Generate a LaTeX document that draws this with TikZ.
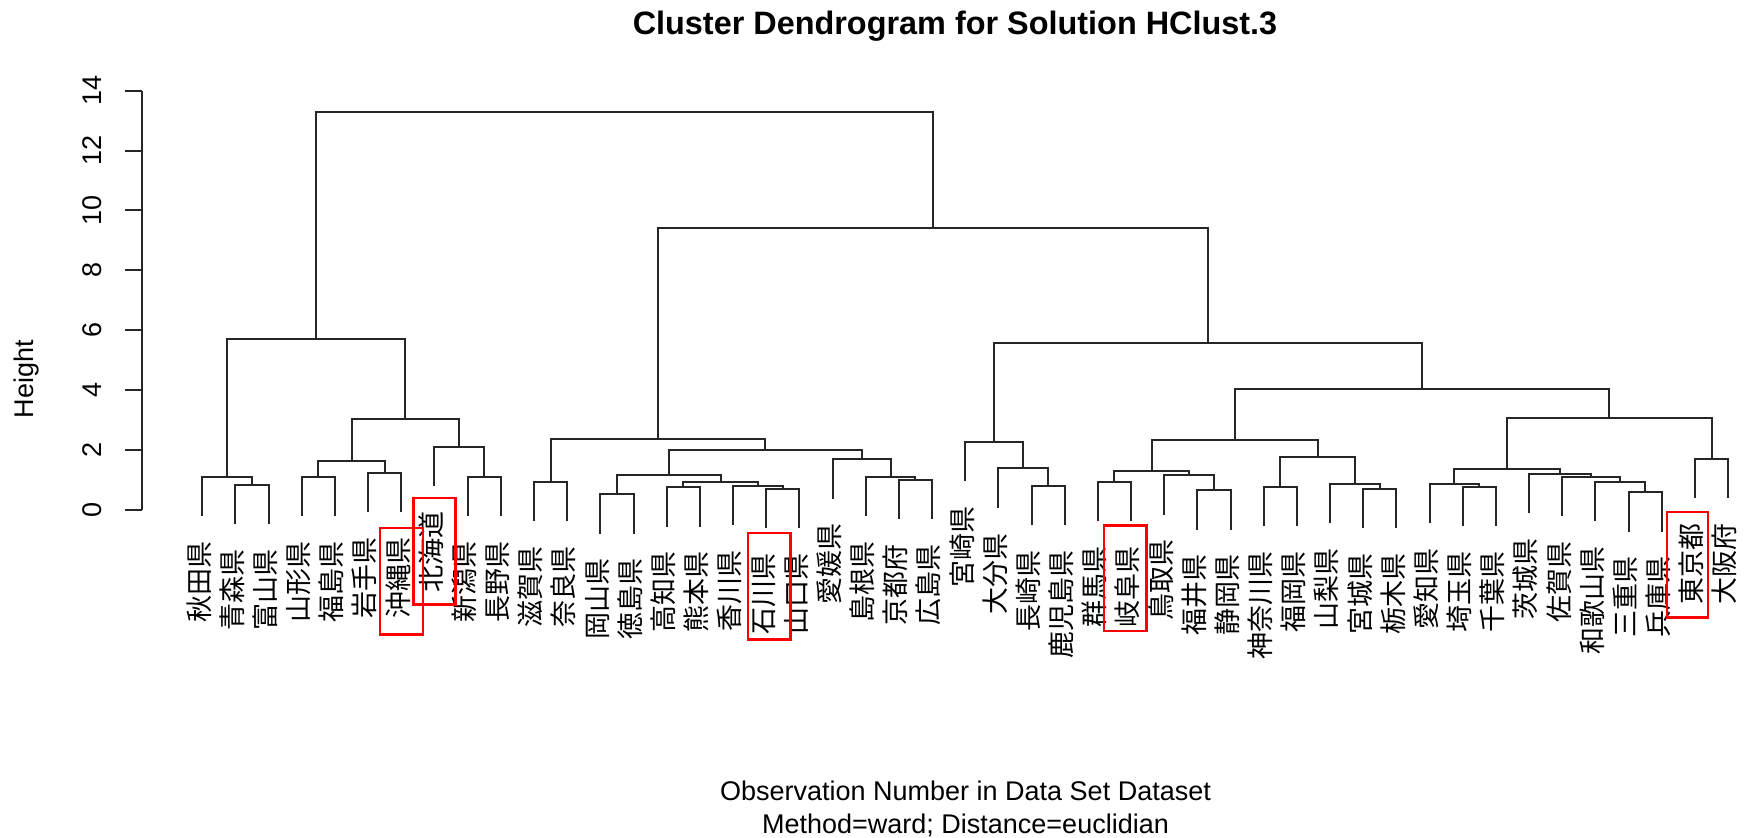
\documentclass[tikz,border=0pt]{standalone}
\usepackage{fontspec}
\setmainfont{Liberation Sans}
\newfontfamily\jpfont{Noto Sans CJK JP}
\usetikzlibrary{calc}

\newcommand\hang{1.312}
% join two clusters: name, left, right, height
\newcommand\merge[4]{%
  \coordinate (#1x) at ($(#2)!0.5!(#3)$);
  \coordinate (#1) at (#1x |- 0,#4);
  \draw[tree] (#2) |- (#1) -| (#3);
}

\begin{document}
\begin{tikzpicture}[
  x=0.5pt, y=-0.5pt,
  tree/.style={line width=1pt, black!85},
  leaflab/.style={font=\jpfont\fontsize{13.5}{13.5}\selectfont, rotate=90, anchor=east,
    inner sep=0pt, text height=11.9pt, text depth=1.6pt},
  ticklab/.style={font=\fontsize{13.5}{16}\selectfont, rotate=90, anchor=base, inner sep=0pt},
  axlab/.style={font=\fontsize{13.5}{16}\selectfont, anchor=base, inner sep=0pt},
  hl/.style={draw=red, line width=1.3pt},
]
  \useasboundingbox (0,0) rectangle (1745,838);

  \node[axlab, font=\bfseries\fontsize{16.2}{18}\selectfont] (title) at (955,34.5) {Cluster Dendrogram for Solution HClust.3};
  \node[axlab] (xlab1) at (965.5,800) {Observation Number in Data Set Dataset};
  \node[axlab] (xlab2) at (965.5,833) {Method=ward; Distance=euclidian};
  \node[axlab, rotate=90] (ylab) at (33,379) {Height};

  \begin{scope}[shift={(202.3,510)}, x=16.585pt, y=14.975pt]
    % height axis
    \draw[tree] (-1.827,0) coordinate (ax0) -- (-1.827,14) coordinate (ax1);
    \foreach \t in {0,2,...,14} {
      \coordinate (k\t) at (-1.827,\t);
      \draw[tree] (k\t) -- ++(-8.3pt,0);
      \node[ticklab] (y\t) at ($(k\t)+(-20pt,0)$) {\t};
    }

    % leaves: number / prefecture / height of parent
    \foreach \i/\pref/\ph in {
      1/秋田県/1.11, 2/青森県/0.835, 3/富山県/0.835, 4/山形県/1.11, 5/福島県/1.11,
      6/岩手県/1.245, 7/沖縄県/1.245, 8/北海道/2.113, 9/新潟県/1.11, 10/長野県/1.11,
      11/滋賀県/0.945, 12/奈良県/0.945, 13/岡山県/0.524, 14/徳島県/0.524, 15/高知県/0.758,
      16/熊本県/0.758, 17/香川県/0.811, 18/石川県/0.711, 19/山口県/0.711, 20/愛媛県/1.693,
      21/島根県/1.102, 22/京都府/1.002, 23/広島県/1.002, 24/宮崎県/2.270, 25/大分県/1.392,
      26/長崎県/0.811, 27/鹿児島県/0.811, 28/群馬県/0.935, 29/岐阜県/0.935, 30/鳥取県/1.159,
      31/福井県/0.658, 32/静岡県/0.658, 33/神奈川県/0.768, 34/福岡県/0.768, 35/山梨県/0.868,
      36/宮城県/0.711, 37/栃木県/0.711, 38/愛知県/0.878, 39/埼玉県/0.768, 40/千葉県/0.768,
      41/茨城県/1.212, 42/佐賀県/1.112, 43/和歌山県/0.935, 44/三重県/0.591, 45/兵庫県/0.591,
      46/東京都/1.703, 47/大阪府/1.703} {
      \coordinate (l\i) at (\i-1, \ph-\hang);
      \node[leaflab] (t\i) at ($(l\i)+(-1.75pt,-12.5pt)$) {\pref};
    }

    % north-east group
    \merge{a1}{l2}{l3}{0.835}
    \merge{a2}{l1}{a1}{1.11}
    \merge{a3}{l4}{l5}{1.11}
    \merge{a4}{l6}{l7}{1.245}
    \merge{a5}{a3}{a4}{1.636}
    \merge{a6}{l9}{l10}{1.11}
    \merge{a7}{l8}{a6}{2.113}
    \merge{a8}{a5}{a7}{3.038}
    \merge{a9}{a2}{a8}{5.71}

    % west group
    \merge{b1}{l11}{l12}{0.945}
    \merge{b2}{l13}{l14}{0.524}
    \merge{b3}{l15}{l16}{0.758}
    \merge{b4}{l18}{l19}{0.711}
    \merge{b5}{l17}{b4}{0.811}
    \merge{b6}{b3}{b5}{0.925}
    \merge{b7}{b2}{b6}{1.169}
    \merge{b8}{l22}{l23}{1.002}
    \merge{b9}{l21}{b8}{1.102}
    \merge{b10}{l20}{b9}{1.693}
    \merge{b11}{b7}{b10}{1.993}
    \merge{b12}{b1}{b11}{2.381}

    % kyushu group
    \merge{c1}{l26}{l27}{0.811}
    \merge{c2}{l25}{c1}{1.392}
    \merge{c3}{l24}{c2}{2.270}

    % central group
    \merge{d1}{l28}{l29}{0.935}
    \merge{d2}{l31}{l32}{0.658}
    \merge{d3}{l30}{d2}{1.159}
    \merge{d4}{d1}{d3}{1.292}
    \merge{d5}{l33}{l34}{0.768}
    \merge{d6}{l36}{l37}{0.711}
    \merge{d7}{l35}{d6}{0.868}
    \merge{d8}{d5}{d7}{1.760}
    \merge{d9}{d4}{d8}{2.327}

    % metropolitan group
    \merge{e1}{l39}{l40}{0.768}
    \merge{e2}{l38}{e1}{0.878}
    \merge{e3}{l44}{l45}{0.591}
    \merge{e4}{l43}{e3}{0.935}
    \merge{e5}{l42}{e4}{1.112}
    \merge{e6}{l41}{e5}{1.212}
    \merge{e7}{e2}{e6}{1.359}
    \merge{e8}{l46}{l47}{1.703}
    \merge{e9}{e7}{e8}{3.082}

    % upper joins
    \merge{f1}{d9}{e9}{4.050}
    \merge{f2}{c3}{f1}{5.566}
    \merge{f3}{b12}{f2}{9.406}
    \merge{root}{a9}{f3}{13.29}
  \end{scope}

  % hand-drawn highlights
  \draw[hl] (380,528) rectangle (423,634.5);
  \draw[hl] (413.5,498) rectangle (455.5,604.5);
  \draw[hl] (748,533) rectangle (790.5,639.5);
  \draw[hl] (1104,525.5) rectangle (1146.5,631);
  \draw[hl] (1667,512) rectangle (1708,617.5);
\end{tikzpicture}
\end{document}
